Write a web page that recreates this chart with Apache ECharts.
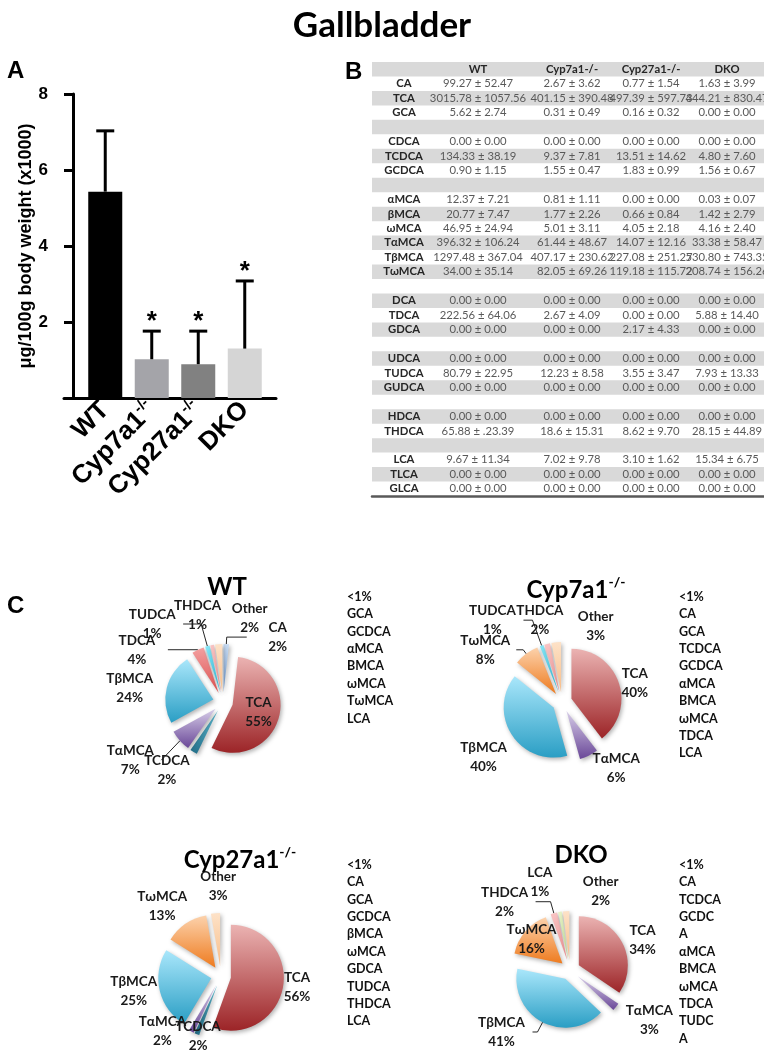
<!DOCTYPE html>
<html><head><meta charset="utf-8">
<script src="https://cdn.jsdelivr.net/npm/echarts@6/dist/echarts.min.js"></script>
<style>html,body{margin:0;padding:0;background:#fff}#c{width:764px;height:1050px}</style>
</head><body><div id="c"></div>
<script>
// ---------------- DATA ----------------
const groups = ['WT', 'Cyp7a1-/-', 'Cyp27a1-/-', 'DKO'];
// Panel A: total gallbladder bile acids, µg/100 g body weight (x1000)
const totalMeans = [5.43, 1.02, 0.89, 1.30];
const totalSDs   = [1.60, 0.74, 0.87, 1.78];
const significant = [false, true, true, true];

// Panel B: table rows ('' = spacer row)
const rowNames = ['CA','TCA','GCA','', 'CDCA','TCDCA','GCDCA','', 'αMCA','βMCA','ωMCA','TαMCA','TβMCA','TωMCA','',
  'DCA','TDCA','GDCA','', 'UDCA','TUDCA','GUDCA','', 'HDCA','THDCA','', 'LCA','TLCA','GLCA'];
const wtCells = ['99.27 ± 52.47','3015.78 ± 1057.56','5.62 ± 2.74','', '0.00 ± 0.00','134.33 ± 38.19','0.90 ± 1.15','',
  '12.37 ± 7.21','20.77 ± 7.47','46.95 ± 24.94','396.32 ± 106.24','1297.48 ± 367.04','34.00 ± 35.14','',
  '0.00 ± 0.00','222.56 ± 64.06','0.00 ± 0.00','', '0.00 ± 0.00','80.79 ± 22.95','0.00 ± 0.00','',
  '0.00 ± 0.00','65.88 ± .23.39','', '9.67 ± 11.34','0.00 ± 0.00','0.00 ± 0.00'];
const cyp7Cells = ['2.67 ± 3.62','401.15 ± 390.48','0.31 ± 0.49','', '0.00 ± 0.00','9.37 ± 7.81','1.55 ± 0.47','',
  '0.81 ± 1.11','1.77 ± 2.26','5.01 ± 3.11','61.44 ± 48.67','407.17 ± 230.62','82.05 ± 69.26','',
  '0.00 ± 0.00','2.67 ± 4.09','0.00 ± 0.00','', '0.00 ± 0.00','12.23 ± 8.58','0.00 ± 0.00','',
  '0.00 ± 0.00','18.6 ± 15.31','', '7.02 ± 9.78','0.00 ± 0.00','0.00 ± 0.00'];
const cyp27Cells = ['0.77 ± 1.54','497.39 ± 597.73','0.16 ± 0.32','', '0.00 ± 0.00','13.51 ± 14.62','1.83 ± 0.99','',
  '0.00 ± 0.00','0.66 ± 0.84','4.05 ± 2.18','14.07 ± 12.16','227.08 ± 251.27','119.18 ± 115.72','',
  '0.00 ± 0.00','0.00 ± 0.00','2.17 ± 4.33','', '0.00 ± 0.00','3.55 ± 3.47','0.00 ± 0.00','',
  '0.00 ± 0.00','8.62 ± 9.70','', '3.10 ± 1.62','0.00 ± 0.00','0.00 ± 0.00'];
const dkoCells = ['1.63 ± 3.99','444.21 ± 830.47','0.00 ± 0.00','', '0.00 ± 0.00','4.80 ± 7.60','1.56 ± 0.67','',
  '0.03 ± 0.07','1.42 ± 2.79','4.16 ± 2.40','33.38 ± 58.47','530.80 ± 743.35','208.74 ± 156.26','',
  '0.00 ± 0.00','5.88 ± 14.40','0.00 ± 0.00','', '0.00 ± 0.00','7.93 ± 13.33','0.00 ± 0.00','',
  '0.00 ± 0.00','28.15 ± 44.89','', '15.34 ± 6.75','0.00 ± 0.00','0.00 ± 0.00'];

// Panel C: slices shown per genotype, and the species pooled into "Other" (<1%)
const wtSlices    = ['CA','TCA','TCDCA','TαMCA','TβMCA','TDCA','TUDCA','THDCA'];
const wtOther     = ['GCA','GCDCA','αMCA','βMCA','ωMCA','TωMCA','LCA'];
const cyp7Slices  = ['TCA','TαMCA','TβMCA','TωMCA','TUDCA','THDCA'];
const cyp7Other   = ['CA','GCA','TCDCA','GCDCA','αMCA','βMCA','ωMCA','TDCA','LCA'];
const cyp27Slices = ['TCA','TCDCA','TαMCA','TβMCA','TωMCA'];
const cyp27Other  = ['CA','GCA','GCDCA','βMCA','ωMCA','GDCA','TUDCA','THDCA','LCA'];
const dkoSlices   = ['TCA','TαMCA','TβMCA','TωMCA','THDCA','LCA'];
const dkoOther    = ['CA','TCDCA','GCDCA','αMCA','βMCA','ωMCA','TDCA','TUDCA'];
// "<1%" lists as printed
const wtList    = ['<1%','GCA','GCDCA','αMCA','BMCA','ωMCA','TωMCA','LCA'];
const cyp7List  = ['<1%','CA','GCA','TCDCA','GCDCA','αMCA','BMCA','ωMCA','TDCA','LCA'];
const cyp27List = ['<1%','CA','GCA','GCDCA','βMCA','ωMCA','GDCA','TUDCA','THDCA','LCA'];
const dkoList   = ['<1%','CA','TCDCA','GCDC','A','αMCA','BMCA','ωMCA','TDCA','TUDC','A'];

// ---------------- STYLE ----------------
const ARIAL = '"Liberation Sans", Arial, sans-serif';
const CAL = 'Lato, "Open Sans", sans-serif';
const barColors = ['#000000', '#a4a4a9', '#818181', '#d5d5d5'];
// table layout: text centre of each column along the table width (0..392)
const tableColCenters = [32, 106, 200, 279, 355];
const sliceColors = {
  'CA':    ['#c9dcf3', '#6f9bd2'],
  'TCA':   ['#ebb3b2', '#9c2427'],
  'TCDCA': ['#5fbcd3', '#23708a'],
  'TαMCA': ['#d7cde8', '#6a4898'],
  'TβMCA': ['#aae7fb', '#2a9ec4'],
  'TωMCA': ['#fcd2ac', '#ee7b1f'],
  'TDCA':  ['#f3a0a0', '#db4f4f'],
  'TUDCA': ['#86e6f7', '#26b5d5'],
  'THDCA': ['#f9c4c4', '#e88a8a'],
  'LCA':   ['#e6f3c8', '#bcd98a'],
  'Other': ['#fde2c8', '#f8bd88']
};
// label placement per slice: [labelLine length, length2, show line, position]
const wtPlace = {CA:[7,20,true], TCA:[0,0,false,'inside'], TCDCA:[21,-15,false], 'TαMCA':[29,-3,true],
  'TβMCA':[0,6,false], TDCA:[0,30,true], TUDCA:[23,18,true], THDCA:[30,-22,false], Other:[26,-64,false]};
const cyp7Place = {TCA:[0,-15,false], 'TαMCA':[14,-10,false], 'TβMCA':[40,-36,false], 'TωMCA':[5,7,true],
  TUDCA:[27,9,true], THDCA:[25,-30,false], Other:[16,-72,false]};
const cyp27Place = {TCA:[0,-17,false], TCDCA:[2,-33,false], 'TαMCA':[0,-2,false], 'TβMCA':[0,-5,false],
  'TωMCA':[21,-19,false], Other:[27,-36,false]};
const dkoPlace = {TCA:[5,-15,false], 'TαMCA':[21,-14,false], 'TβMCA':[11,5,true], 'TωMCA':[-12,-28,false],
  THDCA:[12,15,true], LCA:[30,-16,false], Other:[20,-67,false]};

// ---------------- BUILD ----------------
const columns = [wtCells, cyp7Cells, cyp27Cells, dkoCells];
const tableRows = [['', ...groups]].concat(rowNames.map((n, k) => [n, wtCells[k], cyp7Cells[k], cyp27Cells[k], dkoCells[k]]));
const tableData = [];
tableRows.forEach((r, ri) => r.forEach((_, ci) => tableData.push([ci, ri])));

function meanOf(gi, name) { return parseFloat(columns[gi][rowNames.indexOf(name)]); }

function pieData(gi, shown, other, place) {
  const items = shown.map(n => ({name: n, value: meanOf(gi, n)}));
  items.push({name: 'Other', value: other.reduce((s, n) => s + meanOf(gi, n), 0)});
  return items.map(it => {
    const c = sliceColors[it.name];
    const p = place[it.name];
    return Object.assign(it, {
      selected: true,
      itemStyle: {color: new echarts.graphic.LinearGradient(0, 0, 0, 1, [{offset: 0, color: c[0]}, {offset: 1, color: c[1]}])},
      label: {position: p[3] || 'outside'},
      labelLine: {length: p[0], length2: p[1], show: p[2]}
    });
  });
}

function pieSeries(gi, shown, other, place, center, r) {
  return {
    type: 'pie', center: center, radius: r, startAngle: 90, clockwise: true,
    selectedMode: 'multiple', selectedOffset: 10, avoidLabelOverlap: false, silent: true,
    labelLayout: {hideOverlap: false},
    percentPrecision: 2,
    itemStyle: {borderWidth: 0, shadowBlur: 4, shadowColor: 'rgba(0,0,0,0.3)', shadowOffsetX: 1.5, shadowOffsetY: 2},
    select: {itemStyle: {borderWidth: 0}},
    emphasis: {disabled: true},
    label: {
      show: true, distanceToLabelLine: 5,
      formatter: p => '{t|' + p.name + '}\n{t|' + Math.round(p.percent) + '%}',
      rich: {t: {width: 52, align: 'center', fontFamily: CAL, fontWeight: 'bold', fontSize: 13.5, lineHeight: 19, color: '#1a1a1a'}}
    },
    labelLine: {show: true, smooth: false, lineStyle: {color: '#262626', width: 1}},
    data: pieData(gi, shown, other, place)
  };
}

function supRich(v) { return v.replace('-/-', '{s|-/-}'); }

function renderErr(params, api) {
  const m = api.value(1), sd = api.value(2);
  const base = api.coord([api.value(0), m]);
  const top = api.coord([api.value(0), m + sd]);
  const ch = [
    {type: 'line', shape: {x1: base[0], y1: base[1], x2: top[0], y2: top[1]}, style: {stroke: '#000', lineWidth: 3}},
    {type: 'line', shape: {x1: top[0] - 9, y1: top[1], x2: top[0] + 9, y2: top[1]}, style: {stroke: '#000', lineWidth: 3}}
  ];
  if (api.value(3)) ch.push({type: 'text', x: top[0], y: top[1] + 4,
    style: {text: '*', fontSize: 26, fontWeight: 'bold', fontFamily: ARIAL, fill: '#000', align: 'center', verticalAlign: 'bottom'}});
  return {type: 'group', children: ch};
}

function renderCell(params, api) {
  const ci = api.value(0), ri = api.value(1);
  const c = api.coord([tableColCenters[ci], ri]);
  const h = api.size([0, 1])[1];
  const cs = params.coordSys;
  const txt = tableRows[ri][ci];
  const ch = [];
  if (ci === 0 && ri % 2 === 0) ch.push({type: 'rect', shape: {x: cs.x, y: c[1] - h / 2, width: cs.width, height: h}, style: {fill: '#d9d9d9'}, z2: 0});
  if (txt) {
    const bold = ci === 0 || ri === 0;
    ch.push({type: 'text', x: c[0], y: c[1], z2: 2, style: {text: txt, align: 'center', verticalAlign: 'middle',
      fontFamily: CAL, fontSize: 11.3, fontWeight: bold ? 'bold' : 'normal', fill: bold ? '#262626' : '#595959'}});
  }
  return {type: 'group', children: ch};
}

const listStyle = {fontFamily: CAL, fontWeight: 'bold', fontSize: 12.5, lineHeight: 17.4, color: '#111'};
const pieTitleStyle = {fontFamily: CAL, fontWeight: 'bold', fontSize: 24, color: '#000',
  rich: {b: {fontFamily: CAL, fontWeight: 'bold', fontSize: 24, color: '#000'},
         s: {fontFamily: CAL, fontWeight: 'bold', fontSize: 14, color: '#000', verticalAlign: 'top', lineHeight: 30}}};

const option = {
  animation: false,
  backgroundColor: '#fff',
  title: [
    {text: 'Gallbladder', left: 'center', top: 3, textStyle: {fontFamily: CAL, fontWeight: 'bold', fontSize: 35, color: '#000'}},
    {text: 'A', left: 2, top: 54, textStyle: {fontFamily: ARIAL, fontWeight: 'bold', fontSize: 24, color: '#000'}},
    {text: 'B', left: 340, top: 55, textStyle: {fontFamily: ARIAL, fontWeight: 'bold', fontSize: 24, color: '#000'}},
    {text: 'C', left: 2, top: 589, textStyle: {fontFamily: ARIAL, fontWeight: 'bold', fontSize: 24, color: '#000'}},
    {text: '{b|WT}', left: 222, top: 570, textAlign: 'center', textStyle: pieTitleStyle},
    {text: '{b|Cyp7a1}{s|-/-}', left: 571, top: 570, textAlign: 'center', textStyle: pieTitleStyle},
    {text: '{b|Cyp27a1}{s|-/-}', left: 235, top: 840, textAlign: 'center', textStyle: pieTitleStyle},
    {text: '{b|DKO}', left: 576, top: 838, textAlign: 'center', textStyle: pieTitleStyle},
    {text: wtList.join('\n'), left: 342, top: 583, textStyle: listStyle},
    {text: cyp7List.join('\n'), left: 674, top: 583, textStyle: listStyle},
    {text: cyp27List.join('\n'), left: 342, top: 851, textStyle: listStyle},
    {text: dkoList.join('\n'), left: 674, top: 851, textStyle: listStyle}
  ],
  grid: [
    {left: 82, top: 94, width: 186, height: 304},
    {left: 64, top: 94, width: 212, height: 304},
    {left: 372, top: 62, width: 392, height: 434}
  ],
  xAxis: [
    {gridIndex: 0, type: 'category', data: groups, axisLine: {show: false}, axisTick: {show: false},
      axisLabel: {interval: 0, rotate: 45, margin: 8, fontFamily: ARIAL, fontWeight: 'bold', fontSize: 26, color: '#000',
        formatter: supRich, rich: {s: {fontFamily: ARIAL, fontWeight: 'bold', fontSize: 15, color: '#000', verticalAlign: 'top', lineHeight: 30}}}},
    {gridIndex: 1, type: 'value', min: 0, max: 1, axisLine: {show: true, lineStyle: {color: '#000', width: 3}},
      axisTick: {show: false}, axisLabel: {show: false}, splitLine: {show: false}},
    {gridIndex: 2, type: 'value', min: 0, max: 392, axisLine: {show: true, onZero: false, lineStyle: {color: '#595959', width: 2.5}},
      axisTick: {show: false}, axisLabel: {show: false}, splitLine: {show: false}}
  ],
  yAxis: [
    {gridIndex: 0, type: 'value', min: 0, max: 8, interval: 2, offset: 9,
      axisLine: {show: true, lineStyle: {color: '#000', width: 3}},
      axisTick: {show: true, length: 9, lineStyle: {color: '#000', width: 3}},
      splitLine: {show: false},
      axisLabel: {margin: 25, fontFamily: ARIAL, fontWeight: 'bold', fontSize: 17, color: '#000', formatter: v => v === 0 ? '' : String(v)},
      name: 'μg/100g body weight (x1000)', nameLocation: 'middle', nameRotate: 90, nameGap: 32,
      nameTextStyle: {fontFamily: ARIAL, fontWeight: 'bold', fontSize: 18, color: '#000'}},
    {gridIndex: 1, type: 'value', min: 0, max: 8, show: false},
    {gridIndex: 2, type: 'category', data: tableRows.map((_, i) => i), inverse: true, show: false}
  ],
  series: [
    {type: 'bar', xAxisIndex: 0, yAxisIndex: 0, barWidth: 34, silent: true,
      data: totalMeans.map((v, i) => ({value: v, itemStyle: {color: barColors[i]}}))},
    {type: 'custom', xAxisIndex: 0, yAxisIndex: 0, z: 5, silent: true, renderItem: renderErr,
      data: groups.map((g, i) => [i, totalMeans[i], totalSDs[i], significant[i] ? 1 : 0])},
    {type: 'custom', xAxisIndex: 2, yAxisIndex: 2, silent: true, renderItem: renderCell, data: tableData},
    pieSeries(0, wtSlices, wtOther, wtPlace, [223, 702], 48),
    pieSeries(1, cyp7Slices, cyp7Other, cyp7Place, [562, 702], 50),
    pieSeries(2, cyp27Slices, cyp27Other, cyp27Place, [221, 976], 53),
    pieSeries(3, dkoSlices, dkoOther, dkoPlace, [570, 970], 49)
  ]
};
const chart = echarts.init(document.getElementById('c'));
chart.setOption(option);
</script></body></html>
